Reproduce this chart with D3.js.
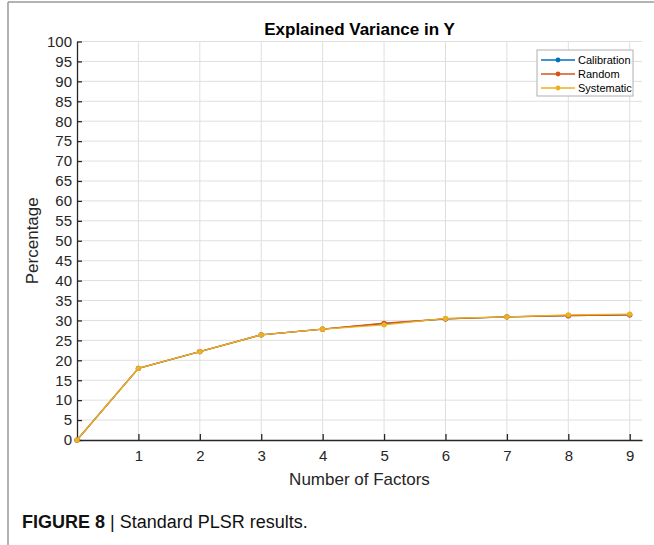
<!DOCTYPE html>
<html>
<head>
<meta charset="utf-8">
<script src="https://cdn.jsdelivr.net/npm/d3@7"></script>
<style>
  body { margin: 0; background: #fff; }
  text { font-family: "Liberation Sans", Arial, sans-serif; fill: #262626; }
</style>
</head>
<body>
<div id="chart"></div>
<script>
var factors = [0, 1, 2, 3, 4, 5, 6, 7, 8, 9]
var calibration = [0, 18.0, 22.2, 26.4, 27.8, 29.2, 30.4, 30.9, 31.2, 31.4]
var random = [0, 18.0, 22.2, 26.4, 27.8, 29.3, 30.4, 30.9, 31.2, 31.4]
var systematic = [0, 18.0, 22.2, 26.4, 27.8, 28.9, 30.5, 30.9, 31.4, 31.6]
var seriesNames = ['Calibration', 'Random', 'Systematic']
var seriesColors = ['#0072BD', '#D95319', '#EDB120']
var yTicks = d3.range(0, 101, 5)
var xTicks = [1, 2, 3, 4, 5, 6, 7, 8, 9]

var width = 654, height = 545
var margin = {top: 41.5, right: 12, bottom: 105, left: 77}
var w = width - margin.left - margin.right
var h = height - margin.top - margin.bottom

var svg = d3.select('#chart').append('svg')
  .attr('width', width)
  .attr('height', height)

// figure frame (left and top edges visible)
svg.append('line').attr('x1', 8).attr('x2', 8).attr('y1', 2).attr('y2', height)
  .attr('stroke', '#9a9a9a').attr('stroke-width', 1.5)
svg.append('line').attr('x1', 8).attr('x2', width).attr('y1', 2).attr('y2', 2)
  .attr('stroke', '#9a9a9a').attr('stroke-width', 1.5)

var g = svg.append('g')
  .attr('transform', 'translate(' + margin.left + ',' + margin.top + ')')

var x = d3.scaleLinear().domain([0, 9.2]).range([0, w])
var y = d3.scaleLinear().domain([0, 100]).range([h, 0])

// grid
g.append('g').selectAll('line').data(yTicks.filter(function(d) { return d > 0 }))
  .enter().append('line')
  .attr('x1', 0).attr('x2', w)
  .attr('y1', function(d) { return y(d) }).attr('y2', function(d) { return y(d) })
  .attr('stroke', '#dfdfdf').attr('stroke-width', 1)
g.append('g').selectAll('line').data(xTicks)
  .enter().append('line')
  .attr('y1', 0).attr('y2', h)
  .attr('x1', function(d) { return x(d) }).attr('x2', function(d) { return x(d) })
  .attr('stroke', '#dfdfdf').attr('stroke-width', 1)

// axes
var xAxis = d3.axisBottom(x).tickValues(xTicks).tickSizeInner(-6).tickSizeOuter(0).tickPadding(10)
var yAxis = d3.axisLeft(y).tickValues(yTicks).tickSizeInner(-5).tickSizeOuter(0).tickPadding(5)

var gx = g.append('g').attr('transform', 'translate(0,' + h + ')').call(xAxis)
var gy = g.append('g').call(yAxis)
;[gx, gy].forEach(function(a) {
  a.select('.domain').attr('stroke', '#262626').attr('stroke-width', 1.3)
  a.selectAll('.tick line').attr('stroke', '#262626').attr('stroke-width', 1.3)
  a.selectAll('.tick text').attr('font-size', 15).attr('fill', '#262626')
    .style('font-family', '"Liberation Sans", Arial, sans-serif')
})

// series
var allSeries = [calibration, random, systematic]
var line = d3.line()
  .x(function(d, i) { return x(factors[i]) })
  .y(function(d) { return y(d) })

allSeries.forEach(function(vals, k) {
  g.append('path').datum(vals)
    .attr('fill', 'none')
    .attr('stroke', seriesColors[k])
    .attr('stroke-width', 1.3)
    .attr('d', line)
  g.append('g').selectAll('circle').data(vals)
    .enter().append('circle')
    .attr('cx', function(d, i) { return x(factors[i]) })
    .attr('cy', function(d) { return y(d) })
    .attr('r', 2.6)
    .attr('fill', seriesColors[k])
})

// title and labels
svg.append('text')
  .attr('x', margin.left + w / 2).attr('y', 35)
  .attr('text-anchor', 'middle')
  .attr('font-size', 17).attr('font-weight', 'bold')
  .style('fill', '#000')
  .text('Explained Variance in Y')

svg.append('text')
  .attr('x', margin.left + w / 2).attr('y', 485)
  .attr('text-anchor', 'middle')
  .attr('font-size', 17)
  .text('Number of Factors')

svg.append('text')
  .attr('transform', 'translate(38,' + (margin.top + h / 2) + ') rotate(-90)')
  .attr('text-anchor', 'middle')
  .attr('font-size', 17)
  .text('Percentage')

// legend
var lg = svg.append('g').attr('transform', 'translate(537,50)')
lg.append('rect').attr('width', 96).attr('height', 46)
  .attr('fill', '#fff').attr('stroke', '#b0b0b0').attr('stroke-width', 1)
seriesNames.forEach(function(name, k) {
  var row = lg.append('g').attr('transform', 'translate(0,' + (10 + k * 14) + ')')
  row.append('line').attr('x1', 4).attr('x2', 38).attr('y1', 0).attr('y2', 0)
    .attr('stroke', seriesColors[k]).attr('stroke-width', 1.3)
  row.append('circle').attr('cx', 21).attr('cy', 0).attr('r', 2.4).attr('fill', seriesColors[k])
  row.append('text').attr('x', 41).attr('y', 4).attr('font-size', 11)
    .style('fill', '#000').text(name)
})

// caption
var cap = svg.append('text').attr('x', 22).attr('y', 528).attr('font-size', 18).style('fill', '#111')
cap.append('tspan').attr('font-weight', 'bold').text('FIGURE 8')
cap.append('tspan').text(' | Standard PLSR results.')
</script>
</body>
</html>
